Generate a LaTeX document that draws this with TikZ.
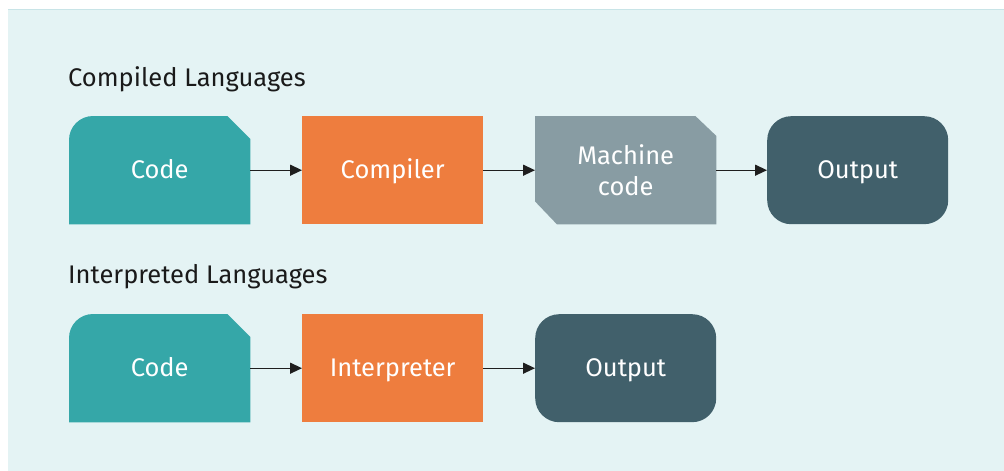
\documentclass[tikz,border=0pt]{standalone}
\usepackage{fontspec}
\setmainfont{Fira Sans}
\usetikzlibrary{backgrounds,arrows.meta}

\definecolor{panelbg}{HTML}{E4F3F4}
\definecolor{panelrule}{HTML}{C8E4E7}
\definecolor{codeteal}{HTML}{35A7A8}
\definecolor{toolorange}{HTML}{EE7D3E}
\definecolor{machinegray}{HTML}{889CA3}
\definecolor{outdark}{HTML}{41606B}
\definecolor{titleink}{HTML}{1A1A1A}
\definecolor{arrowink}{HTML}{1E1E1E}

\begin{document}
\begin{tikzpicture}[x=1pt,y=-1pt,
  box/.style={minimum width=181pt, minimum height=108pt, inner sep=0pt,
    anchor=north west, text=white, align=center,
    font=\fontsize{25.5}{31}\selectfont},
  oneline/.style={text height=23.5pt, text depth=6pt},
  tool/.style={box, oneline, fill=toolorange},
  result/.style={box, oneline, fill=outdark, rounded corners=24pt},
  heading/.style={anchor=base west, inner sep=0pt, text=titleink,
    font=\fontsize{25.5}{30}\selectfont},
  flow/.style={draw=arrowink, line width=1.3pt,
    -{Triangle[length=12pt,width=11pt]}}
]
\useasboundingbox (0,0) rectangle (1004,471);

% Compiled pipeline
\node[heading] (t1) at (68,86) {Compiled Languages};
\node[box, oneline] (c1) at (69,116) {Code};
\node[tool] (comp) at (302,116) {Compiler};
\node[box] (mc) at (535,116) {Machine\\code};
\node[result] (o1) at (767,116) {Output};

% Interpreted pipeline
\node[heading] (t2) at (68,283) {Interpreted Languages};
\node[box, oneline] (c2) at (69,314) {Code};
\node[tool] (interp) at (302,314) {Interpreter};
\node[result] (o2) at (535,314) {Output};

% Panel and document shapes behind the labels
\begin{scope}[on background layer]
  \fill[white] (0,0) rectangle (1004,471);
  \fill[panelbg] (8,9) rectangle (1004,471);
  \draw[panelrule, line width=1pt] (8,9.5) -- (1004,9.5);
  \foreach \n in {c1,c2}{
    \fill[codeteal] (\n.south west) -- ([yshift=-24pt]\n.north west)
      arc[start angle=180, end angle=90, radius=24pt]
      -- ([xshift=-23pt]\n.north east) -- ([yshift=-23pt]\n.north east)
      -- (\n.south east) -- cycle;
  }
  \fill[machinegray] (mc.north west) -- ([xshift=-21pt]mc.north east)
    -- ([yshift=-20pt]mc.north east) -- (mc.south east)
    -- ([xshift=22pt]mc.south west) -- ([yshift=23pt]mc.south west) -- cycle;
\end{scope}

% Connectors
\draw[flow] (c1.east) -- (comp.west);
\draw[flow] (comp.east) -- (mc.west);
\draw[flow] (mc.east) -- (o1.west);
\draw[flow] (c2.east) -- (interp.west);
\draw[flow] (interp.east) -- (o2.west);
\end{tikzpicture}
\end{document}
